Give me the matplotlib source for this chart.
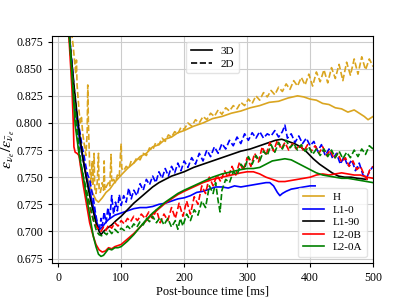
import matplotlib
matplotlib.use("Agg")
import matplotlib.pyplot as plt
from matplotlib.lines import Line2D

plt.rcParams['font.family'] = ['Liberation Serif', 'DejaVu Serif']
plt.rcParams['mathtext.fontset'] = 'stix'

# ---------------- data ----------------
H_3D_t = [15, 20, 25, 30, 35, 40, 45, 50, 55, 60, 64, 70, 76, 82, 88, 94, 100, 110, 120, 130, 140, 150, 160, 170, 180, 190,
          200, 215, 230, 245, 260, 275, 290, 305, 320, 335, 350, 365, 380, 390, 400, 410, 420, 430, 440, 450, 460, 470,
          478, 486, 492, 500]
H_3D_v = [0.900, 0.862, 0.830, 0.803, 0.782, 0.765, 0.752, 0.742, 0.735, 0.729, 0.727, 0.731, 0.736, 0.739, 0.744, 0.748,
          0.752, 0.758, 0.763, 0.769, 0.772, 0.778, 0.780, 0.785, 0.787, 0.791, 0.793, 0.797, 0.800, 0.804, 0.806, 0.809,
          0.811, 0.814, 0.816, 0.819, 0.820, 0.823, 0.825, 0.824, 0.822, 0.821, 0.818, 0.817, 0.814, 0.813, 0.810, 0.812,
          0.809, 0.806, 0.803, 0.806]

H_2D_t = [18, 24, 28, 29, 30, 33, 35, 37, 39, 42, 44, 46, 47, 48, 50, 52, 54, 55, 57, 58, 60, 62, 64, 65, 67, 70, 72, 73,
          74, 77, 80, 82, 84, 85, 88, 91, 94, 97, 99, 100, 101, 104, 108, 112, 116, 120, 125, 130, 135, 140, 145, 150,
          155, 160, 165, 170, 175, 180, 185, 190, 195, 200, 206, 212, 218, 224, 230, 236, 242, 248, 254, 260, 266, 272,
          278, 284, 290, 296, 302, 308, 314, 320, 326, 332, 338, 344, 350, 356, 362, 368, 374, 380, 386, 392, 398, 404,
          410, 416, 422, 428, 434, 440, 446, 452, 458, 464, 470, 476, 482, 488, 494, 500]
H_2D_v = [0.900, 0.870, 0.845, 0.858, 0.835, 0.812, 0.800, 0.805, 0.790, 0.778, 0.770, 0.790, 0.835, 0.800, 0.760, 0.745,
          0.765, 0.742, 0.772, 0.740, 0.735, 0.745, 0.772, 0.738, 0.736, 0.745, 0.738, 0.765, 0.738, 0.742, 0.745, 0.742,
          0.771, 0.745, 0.748, 0.745, 0.752, 0.750, 0.772, 0.781, 0.758, 0.756, 0.760, 0.758, 0.765, 0.763, 0.768, 0.766,
          0.772, 0.770, 0.777, 0.775, 0.782, 0.780, 0.786, 0.783, 0.789, 0.787, 0.792, 0.790, 0.796, 0.794, 0.800, 0.797,
          0.803, 0.800, 0.806, 0.803, 0.809, 0.806, 0.812, 0.808, 0.814, 0.811, 0.816, 0.813, 0.819, 0.816, 0.822, 0.818,
          0.825, 0.821, 0.828, 0.824, 0.830, 0.826, 0.833, 0.829, 0.836, 0.831, 0.839, 0.834, 0.842, 0.835, 0.845, 0.834,
          0.847, 0.838, 0.849, 0.837, 0.851, 0.841, 0.854, 0.839, 0.856, 0.844, 0.859, 0.845, 0.861, 0.849, 0.859, 0.852]

L10_3D_t = [15, 20, 25, 30, 35, 40, 45, 50, 55, 60, 63, 66, 70, 75, 80, 85, 90, 95, 100, 110, 120, 130, 140, 150, 160, 170,
            180, 190, 200, 210, 220, 230, 240, 250, 260, 270, 280, 290, 300, 310, 320, 330, 336, 342, 348, 352, 356, 362,
            370, 380, 390, 400, 408]
L10_3D_v = [0.900, 0.865, 0.830, 0.802, 0.780, 0.765, 0.750, 0.738, 0.725, 0.712, 0.705, 0.702, 0.704, 0.708, 0.711, 0.713,
            0.715, 0.716, 0.717, 0.719, 0.721, 0.722, 0.722, 0.723, 0.725, 0.726, 0.728, 0.730, 0.731, 0.733, 0.736, 0.737,
            0.739, 0.741, 0.741, 0.740, 0.742, 0.741, 0.742, 0.743, 0.744, 0.745, 0.745, 0.742, 0.736, 0.733, 0.735, 0.737,
            0.739, 0.740, 0.741, 0.742, 0.742]

L10_2D_t = [15, 22, 28, 32, 35, 38, 41, 44, 47, 50, 53, 56, 59, 62, 65, 68, 70, 73, 76, 79, 82, 85, 88, 91, 94, 97, 100,
            104, 108, 112, 116, 120, 125, 130, 135, 140, 145, 150, 155, 160, 165, 170, 175, 180, 185, 190, 195, 200, 206,
            212, 218, 224, 230, 236, 242, 248, 254, 260, 266, 272, 278, 284, 290, 296, 302, 308, 314, 320, 326, 332, 338,
            344, 350, 356, 360, 364, 370, 376, 382, 388, 394, 400, 406, 412, 418, 424, 430, 436, 442, 448, 454, 460, 466,
            472, 478, 484, 490, 495, 500]
L10_2D_v = [0.900, 0.855, 0.815, 0.800, 0.790, 0.778, 0.770, 0.760, 0.752, 0.748, 0.738, 0.730, 0.718, 0.708, 0.700, 0.712,
            0.705, 0.718, 0.708, 0.722, 0.712, 0.733, 0.716, 0.727, 0.719, 0.734, 0.724, 0.733, 0.727, 0.740, 0.730, 0.738,
            0.733, 0.744, 0.738, 0.748, 0.743, 0.751, 0.745, 0.755, 0.749, 0.758, 0.751, 0.760, 0.754, 0.763, 0.756, 0.765,
            0.759, 0.768, 0.762, 0.772, 0.765, 0.775, 0.769, 0.778, 0.772, 0.781, 0.776, 0.784, 0.779, 0.787, 0.781, 0.790,
            0.784, 0.791, 0.786, 0.792, 0.786, 0.790, 0.788, 0.793, 0.787, 0.792, 0.798, 0.786, 0.790, 0.782, 0.788, 0.781,
            0.786, 0.779, 0.783, 0.774, 0.780, 0.770, 0.776, 0.767, 0.772, 0.762, 0.769, 0.760, 0.766, 0.756, 0.763, 0.752,
            0.750, 0.756, 0.760]

L190_3D_t = [15, 20, 25, 30, 35, 40, 45, 50, 55, 60, 65, 68, 72, 78, 85, 92, 100, 110, 120, 130, 140, 150, 160, 170, 180,
             190, 200, 215, 230, 245, 260, 275, 290, 305, 320, 335, 345, 355, 365, 375, 385, 395, 405, 415, 425, 435, 445,
             455, 465, 475, 490]
L190_3D_v = [0.900, 0.865, 0.835, 0.808, 0.785, 0.765, 0.748, 0.733, 0.720, 0.708, 0.700, 0.697, 0.700, 0.703, 0.706,
             0.710, 0.714, 0.720, 0.726, 0.731, 0.736, 0.741, 0.745, 0.748, 0.751, 0.753, 0.755, 0.759, 0.762, 0.765,
             0.768, 0.771, 0.774, 0.776, 0.779, 0.782, 0.784, 0.785, 0.783, 0.781, 0.778, 0.773, 0.767, 0.762, 0.758,
             0.754, 0.751, 0.750, 0.750, 0.749, 0.748]

L20B_3D_t = [15, 19, 22, 24, 25, 27, 30, 33, 36, 40, 45, 50, 55, 60, 65, 70, 75, 80, 85, 90, 95, 100, 110, 120, 130, 140,
             150, 160, 170, 180, 190, 200, 215, 230, 245, 260, 275, 290, 300, 310, 320, 330, 340, 350, 360, 370, 380, 390,
             400, 410, 420, 430, 440, 450, 460, 470, 480, 490, 500]
L20B_3D_v = [0.900, 0.860, 0.830, 0.800, 0.778, 0.773, 0.772, 0.770, 0.758, 0.742, 0.725, 0.708, 0.697, 0.688, 0.683,
             0.681, 0.682, 0.685, 0.684, 0.686, 0.687, 0.688, 0.693, 0.698, 0.704, 0.710, 0.716, 0.721, 0.726, 0.730,
             0.734, 0.737, 0.741, 0.745, 0.748, 0.750, 0.752, 0.754, 0.755, 0.755, 0.753, 0.750, 0.748, 0.746, 0.746,
             0.747, 0.748, 0.749, 0.750, 0.752, 0.753, 0.752, 0.753, 0.754, 0.753, 0.752, 0.752, 0.750, 0.749]

L20B_2D_t = [15, 20, 24, 28, 32, 36, 40, 44, 48, 52, 56, 60, 64, 68, 72, 76, 80, 85, 90, 95, 100, 105, 110, 115, 120, 126,
             132, 138, 144, 150, 156, 162, 168, 174, 180, 186, 192, 198, 204, 210, 216, 222, 228, 234, 240, 246, 252, 258,
             264, 270, 276, 282, 288, 294, 300, 306, 312, 318, 324, 330, 336, 342, 348, 354, 360, 366, 372, 378, 384, 390,
             396, 402, 408, 414, 420, 426, 432, 438, 444, 450, 456, 462, 468, 474, 480, 486, 490, 494, 500]
L20B_2D_v = [0.900, 0.862, 0.830, 0.800, 0.778, 0.760, 0.748, 0.738, 0.728, 0.718, 0.710, 0.705, 0.702, 0.700, 0.704,
             0.701, 0.706, 0.703, 0.708, 0.705, 0.710, 0.707, 0.712, 0.709, 0.714, 0.710, 0.716, 0.712, 0.718, 0.712,
             0.720, 0.708, 0.716, 0.710, 0.722, 0.712, 0.726, 0.714, 0.728, 0.716, 0.732, 0.725, 0.742, 0.735, 0.750,
             0.742, 0.752, 0.746, 0.756, 0.750, 0.760, 0.752, 0.764, 0.756, 0.768, 0.760, 0.772, 0.764, 0.778, 0.770,
             0.782, 0.774, 0.784, 0.776, 0.782, 0.775, 0.781, 0.776, 0.780, 0.774, 0.780, 0.774, 0.779, 0.772, 0.778,
             0.770, 0.775, 0.767, 0.772, 0.764, 0.768, 0.760, 0.765, 0.757, 0.760, 0.752, 0.748, 0.756, 0.760]

L20A_3D_t = [15, 20, 24, 27, 30, 33, 36, 40, 44, 48, 52, 56, 60, 64, 68, 72, 76, 80, 85, 90, 95, 100, 110, 120, 130, 140,
             150, 160, 170, 180, 190, 200, 215, 230, 245, 260, 275, 290, 300, 310, 320, 330, 340, 350, 360, 370, 380, 390,
             400, 410, 420, 430, 440, 450, 460, 470, 480, 490, 500]
L20A_3D_v = [0.900, 0.862, 0.825, 0.798, 0.785, 0.772, 0.762, 0.750, 0.735, 0.722, 0.708, 0.695, 0.686, 0.679, 0.677,
             0.678, 0.681, 0.684, 0.683, 0.685, 0.685, 0.686, 0.691, 0.697, 0.704, 0.711, 0.717, 0.722, 0.727, 0.731,
             0.735, 0.738, 0.742, 0.746, 0.750, 0.753, 0.755, 0.757, 0.758, 0.758, 0.759, 0.762, 0.765, 0.766, 0.767,
             0.766, 0.763, 0.760, 0.757, 0.754, 0.752, 0.751, 0.750, 0.749, 0.749, 0.748, 0.747, 0.746, 0.745]

L20A_2D_t = [15, 20, 25, 29, 33, 37, 41, 45, 49, 53, 57, 61, 65, 69, 73, 77, 81, 85, 90, 95, 100, 105, 110, 115, 120, 125,
             130, 135, 140, 145, 150, 156, 162, 168, 174, 180, 186, 190, 194, 198, 204, 210, 216, 222, 228, 234, 240, 246,
             250, 254, 257, 260, 266, 272, 278, 284, 290, 296, 302, 308, 314, 320, 326, 332, 338, 344, 350, 356, 362, 368,
             374, 380, 386, 392, 398, 404, 410, 416, 422, 428, 434, 440, 446, 452, 458, 464, 470, 476, 482, 488, 494, 500]
L20A_2D_v = [0.900, 0.862, 0.825, 0.800, 0.778, 0.760, 0.748, 0.738, 0.728, 0.718, 0.708, 0.700, 0.697, 0.696, 0.699,
             0.697, 0.701, 0.698, 0.702, 0.699, 0.703, 0.701, 0.705, 0.702, 0.707, 0.704, 0.709, 0.706, 0.712, 0.709,
             0.714, 0.708, 0.713, 0.706, 0.712, 0.704, 0.710, 0.702, 0.712, 0.705, 0.716, 0.710, 0.720, 0.715, 0.728,
             0.722, 0.742, 0.735, 0.745, 0.728, 0.718, 0.738, 0.748, 0.745, 0.755, 0.752, 0.762, 0.758, 0.769, 0.762,
             0.770, 0.765, 0.774, 0.770, 0.780, 0.773, 0.782, 0.776, 0.784, 0.777, 0.781, 0.775, 0.780, 0.774, 0.778,
             0.771, 0.776, 0.770, 0.776, 0.769, 0.775, 0.768, 0.774, 0.767, 0.773, 0.768, 0.775, 0.769, 0.776, 0.771,
             0.779, 0.776]

models = ['H', 'L1-0', 'L1-90', 'L2-0B', 'L2-0A']
colors = ['#DAA520', 'blue', 'black', 'red', 'green']
series_3d = [(H_3D_t, H_3D_v), (L10_3D_t, L10_3D_v), (L190_3D_t, L190_3D_v), (L20B_3D_t, L20B_3D_v), (L20A_3D_t, L20A_3D_v)]
series_2d = [(H_2D_t, H_2D_v), (L10_2D_t, L10_2D_v), None, (L20B_2D_t, L20B_2D_v), (L20A_2D_t, L20A_2D_v)]

xticks = [0, 100, 200, 300, 400, 500]
yticks = [0.675, 0.700, 0.725, 0.750, 0.775, 0.800, 0.825, 0.850, 0.875]

# ---------------- plot ----------------
fig = plt.figure(figsize=(4.15, 2.97), dpi=100)
ax = fig.add_axes([0.125, 0.113, 0.774, 0.767])

lw = 1.2
for name, c, s3, s2 in zip(models, colors, series_3d, series_2d):
    ax.plot(s3[0], s3[1], color=c, lw=lw, ls='-')
    if s2 is not None:
        ax.plot(s2[0], s2[1], color=c, lw=lw, ls='--')

ax.set_xlim(-10, 500)
ax.set_ylim(0.6705, 0.8805)
ax.set_xticks(xticks)
ax.set_yticks(yticks)
ax.set_yticklabels([f"{y:.3f}" for y in yticks])
ax.tick_params(labelsize=8.5, length=3, width=0.8, direction='out')
ax.grid(True, color='#cccccc', lw=0.8)
ax.set_axisbelow(True)
for sp in ax.spines.values():
    sp.set_linewidth(0.8)

ax.set_xlabel('Post-bounce time [ms]', fontsize=9, labelpad=1)
ax.set_ylabel(r'$\varepsilon_{\nu_e}/\varepsilon_{\bar{\nu}_e}$', fontsize=11.5)
ax.yaxis.set_label_coords(-0.108, 0.5)

h_style = [Line2D([], [], color='black', lw=lw, ls='-'), Line2D([], [], color='black', lw=lw, ls='--')]
leg1 = ax.legend(h_style, ['3D', '2D'], loc='upper center', bbox_to_anchor=(0.5, 0.997), fontsize=8,
                 handlelength=1.9, framealpha=0.8, edgecolor='#dddddd', borderpad=0.4, labelspacing=0.25)
ax.add_artist(leg1)
h_mod = [Line2D([], [], color=c, lw=lw) for c in colors]
ax.legend(h_mod, models, loc='lower right', bbox_to_anchor=(0.997, 0.005), fontsize=8, handlelength=1.9,
          framealpha=0.8, edgecolor='#dddddd', borderpad=0.4, labelspacing=0.25)

fig.savefig('out.png', dpi=100)
